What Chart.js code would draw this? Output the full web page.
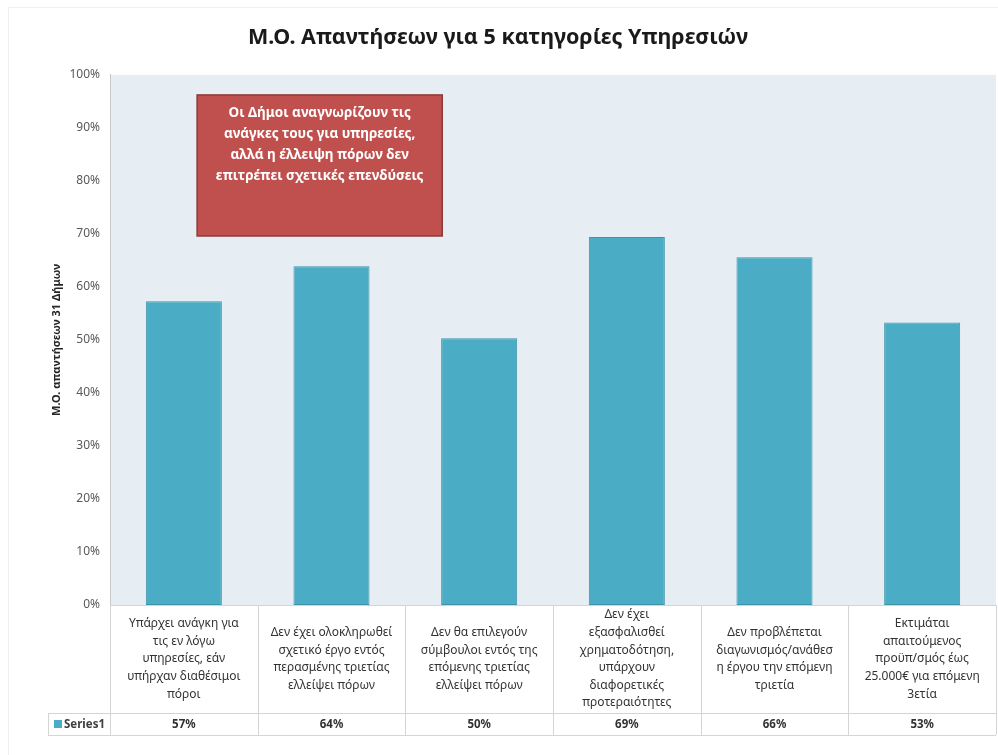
<!DOCTYPE html>
<html>
<head>
<meta charset="utf-8">
<script src="https://cdn.jsdelivr.net/npm/chart.js@4"></script>
<style>
  html, body { margin: 0; padding: 0; background: #fff; }
  #wrap { width: 998px; height: 755px; }
</style>
</head>
<body>
<div id="wrap"><canvas id="chart" width="998" height="755"></canvas></div>
<script>
const categories = [
  ["Υπάρχει ανάγκη για", "τις εν λόγω", "υπηρεσίες, εάν", "υπήρχαν διαθέσιμοι", "πόροι"],
  ["Δεν έχει ολοκληρωθεί", "σχετικό έργο εντός", "περασμένης τριετίας", "ελλείψει πόρων"],
  ["Δεν θα επιλεγούν", "σύμβουλοι εντός της", "επόμενης τριετίας", "ελλείψει πόρων"],
  ["Δεν έχει", "εξασφαλισθεί", "χρηματοδότηση,", "υπάρχουν", "διαφορετικές", "προτεραιότητες"],
  ["Δεν προβλέπεται", "διαγωνισμός/ανάθεσ", "η έργου την επόμενη", "τριετία"],
  ["Εκτιμάται", "απαιτούμενος", "προϋπ/σμός έως", "25.000€ για επόμενη", "3ετία"],
];
const series1 = [0.573, 0.639, 0.503, 0.694, 0.656, 0.533];
const seriesName = "Series1";
const yTicks = [0, 0.1, 0.2, 0.3, 0.4, 0.5, 0.6, 0.7, 0.8, 0.9, 1];

const chartTitle = "Μ.Ο. Απαντήσεων για 5 κατηγορίες Υπηρεσιών";
const yTitle = "Μ.Ο. απαντήσεων 31 Δήμων";
const noteLines = [
  "Οι Δήμοι αναγνωρίζουν τις",
  "ανάγκες τους για υπηρεσίες,",
  "αλλά η έλλειψη πόρων δεν",
  "επιτρέπει σχετικές επενδύσεις",
];
// note box position in axis units (category index, value)
const noteBox = { xMin: 0.09, xMax: 1.75, yMin: 0.696, yMax: 0.962 };

const FONT = "'Noto Sans', 'DejaVu Sans', sans-serif";
const BAR = "#4BACC6";
const GRID = "#D4D4D4";

const plotBg = {
  id: "plotBg",
  beforeDraw(chart) {
    const { ctx, chartArea: a } = chart;
    ctx.save();
    ctx.strokeStyle = "#F0F0F0";
    ctx.lineWidth = 1;
    ctx.strokeRect(8.5, 7.5, chart.width, chart.height);
    ctx.fillStyle = "#E7EEF3";
    ctx.fillRect(a.left, a.top, a.right - a.left, a.bottom - a.top);
    ctx.restore();
  },
};

const noteBoxPlugin = {
  id: "noteBox",
  afterDatasetsDraw(chart) {
    const { ctx, scales: { x, y } } = chart;
    const l = x.getPixelForValue(noteBox.xMin);
    const r = x.getPixelForValue(noteBox.xMax);
    const t = y.getPixelForValue(noteBox.yMax);
    const b = y.getPixelForValue(noteBox.yMin);
    ctx.save();
    ctx.fillStyle = "#C0504D";
    ctx.fillRect(l, t, r - l, b - t);
    ctx.strokeStyle = "#8C3A37";
    ctx.lineWidth = 1.5;
    ctx.strokeRect(l, t, r - l, b - t);
    ctx.fillStyle = "#fff";
    ctx.font = "bold 13.5px " + FONT;
    ctx.textAlign = "center";
    ctx.textBaseline = "middle";
    noteLines.forEach((line, i) => {
      ctx.fillText(line, (l + r) / 2, t + 18 + i * 21);
    });
    ctx.restore();
  },
};

const dataTable = {
  id: "dataTable",
  afterDraw(chart) {
    const { ctx, chartArea: a, scales: { x } } = chart;
    const top = a.bottom;
    const rowSplit = top + 108;
    const bottom = top + 130;
    const legendLeft = 48;
    ctx.save();
    ctx.strokeStyle = GRID;
    ctx.lineWidth = 1;
    ctx.beginPath();
    // horizontal lines
    ctx.moveTo(legendLeft, rowSplit + 0.5);
    ctx.lineTo(a.right, rowSplit + 0.5);
    ctx.moveTo(legendLeft, bottom + 0.5);
    ctx.lineTo(a.right, bottom + 0.5);
    // vertical lines
    for (let i = 0; i <= categories.length; i++) {
      const px = Math.round(x.getPixelForValue(i - 0.5)) + 0.5;
      ctx.moveTo(px, top);
      ctx.lineTo(px, bottom);
    }
    ctx.moveTo(legendLeft + 0.5, rowSplit);
    ctx.lineTo(legendLeft + 0.5, bottom);
    ctx.stroke();

    ctx.textAlign = "center";
    ctx.textBaseline = "middle";
    categories.forEach((lines, i) => {
      const cx = x.getPixelForValue(i);
      const lh = 17.6;
      const startY = top + 54 - ((lines.length - 1) * lh) / 2;
      ctx.fillStyle = "#333333";
      ctx.font = "12px " + FONT;
      lines.forEach((line, j) => ctx.fillText(line, cx, startY + j * lh));
      ctx.font = "bold 11.5px " + FONT;
      ctx.fillText(Math.round(series1[i] * 100) + "%", cx, (rowSplit + bottom) / 2 + 1);
    });

    // legend key
    const my = (rowSplit + bottom) / 2;
    ctx.fillStyle = BAR;
    ctx.fillRect(54, my - 4, 8, 8);
    ctx.fillStyle = "#404040";
    ctx.font = "bold 11.5px " + FONT;
    ctx.textAlign = "left";
    ctx.fillText(seriesName, 64, my + 1);
    ctx.restore();
  },
};

new Chart(document.getElementById("chart"), {
  type: "bar",
  data: {
    labels: categories,
    datasets: [
      {
        label: seriesName,
        data: series1,
        backgroundColor: BAR,
        borderColor: "#3E93AB",
        borderWidth: 1,
        borderSkipped: false,
        categoryPercentage: 1,
        barPercentage: 0.515,
      },
    ],
  },
  options: {
    responsive: false,
    animation: false,
    layout: { padding: { top: 0, left: 0, right: 2, bottom: 20 } },
    plugins: {
      legend: { display: false },
      tooltip: { enabled: false },
      title: {
        display: true,
        text: chartTitle,
        color: "#1a1a1a",
        font: { family: FONT, size: 21.5, weight: "bold" },
        padding: { top: 25, bottom: 24 },
      },
    },
    scales: {
      x: {
        grid: { display: false },
        border: { display: true, color: GRID },
        ticks: { display: false },
        afterFit(scale) {
          scale.height = 130;
        },
      },
      y: {
        min: 0,
        max: 1,
        afterBuildTicks(scale) {
          scale.ticks = yTicks.map((v) => ({ value: v }));
        },
        grid: { display: false },
        border: { display: true, color: "#C8C8C8" },
        ticks: {
          padding: 2,
          color: "#595959",
          font: { family: FONT, size: 12 },
          callback: (v) => Math.round(v * 100) + "%",
        },
        title: {
          display: true,
          text: yTitle,
          color: "#262626",
          font: { family: FONT, size: 11, weight: "bold" },
          padding: { top: 50, bottom: 0 },
        },
        afterFit(scale) {
          scale.width = 110;
        },
      },
    },
  },
  plugins: [plotBg, noteBoxPlugin, dataTable],
});
</script>
</body>
</html>
